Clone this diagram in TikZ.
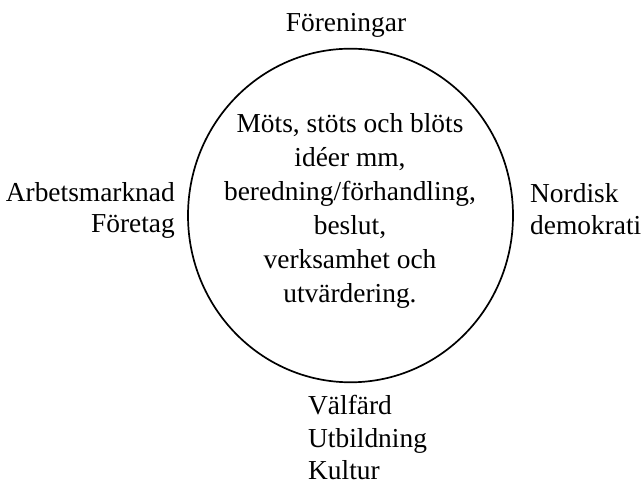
\documentclass[tikz,border=0pt]{standalone}
\usepackage{fontspec}
\setmainfont{Liberation Serif}
\begin{document}
\begin{tikzpicture}[x=1bp,y=1bp,
  lbl/.style={inner sep=0pt,font=\fontsize{27.4bp}{33bp}\selectfont},
  ring/.style={draw=black,line width=1.7bp}]
\useasboundingbox (0,0) rectangle (644,483);
\draw[ring] (350.5,267.5) ellipse [x radius=162.5, y radius=166.8];
\node[lbl,anchor=base] (foren) at (346,451) {Föreningar};
\node[lbl,anchor=base east] (arb) at (175,281) {Arbetsmarknad};
\node[lbl,anchor=base east] (foret) at (175,250) {Företag};
\node[lbl,anchor=base west] (nord) at (530,280) {Nordisk};
\node[lbl,anchor=base west] (demo) at (530,248) {demokrati};
\node[lbl,anchor=base west] (valf) at (308,68) {Välfärd};
\node[lbl,anchor=base west] (utb) at (308,35) {Utbildning};
\node[lbl,anchor=base west] (kult) at (308,3) {Kultur};
\node[lbl,anchor=base] (c1) at (350,350) {Möts, stöts och blöts};
\node[lbl,anchor=base] (c2) at (350,316) {idéer mm,};
\node[lbl,anchor=base] (c3) at (350,282) {beredning/förhandling,};
\node[lbl,anchor=base] (c4) at (350,248) {beslut,};
\node[lbl,anchor=base] (c5) at (350,214) {verksamhet och};
\node[lbl,anchor=base] (c6) at (350,180) {utvärdering.};
\end{tikzpicture}
\end{document}
